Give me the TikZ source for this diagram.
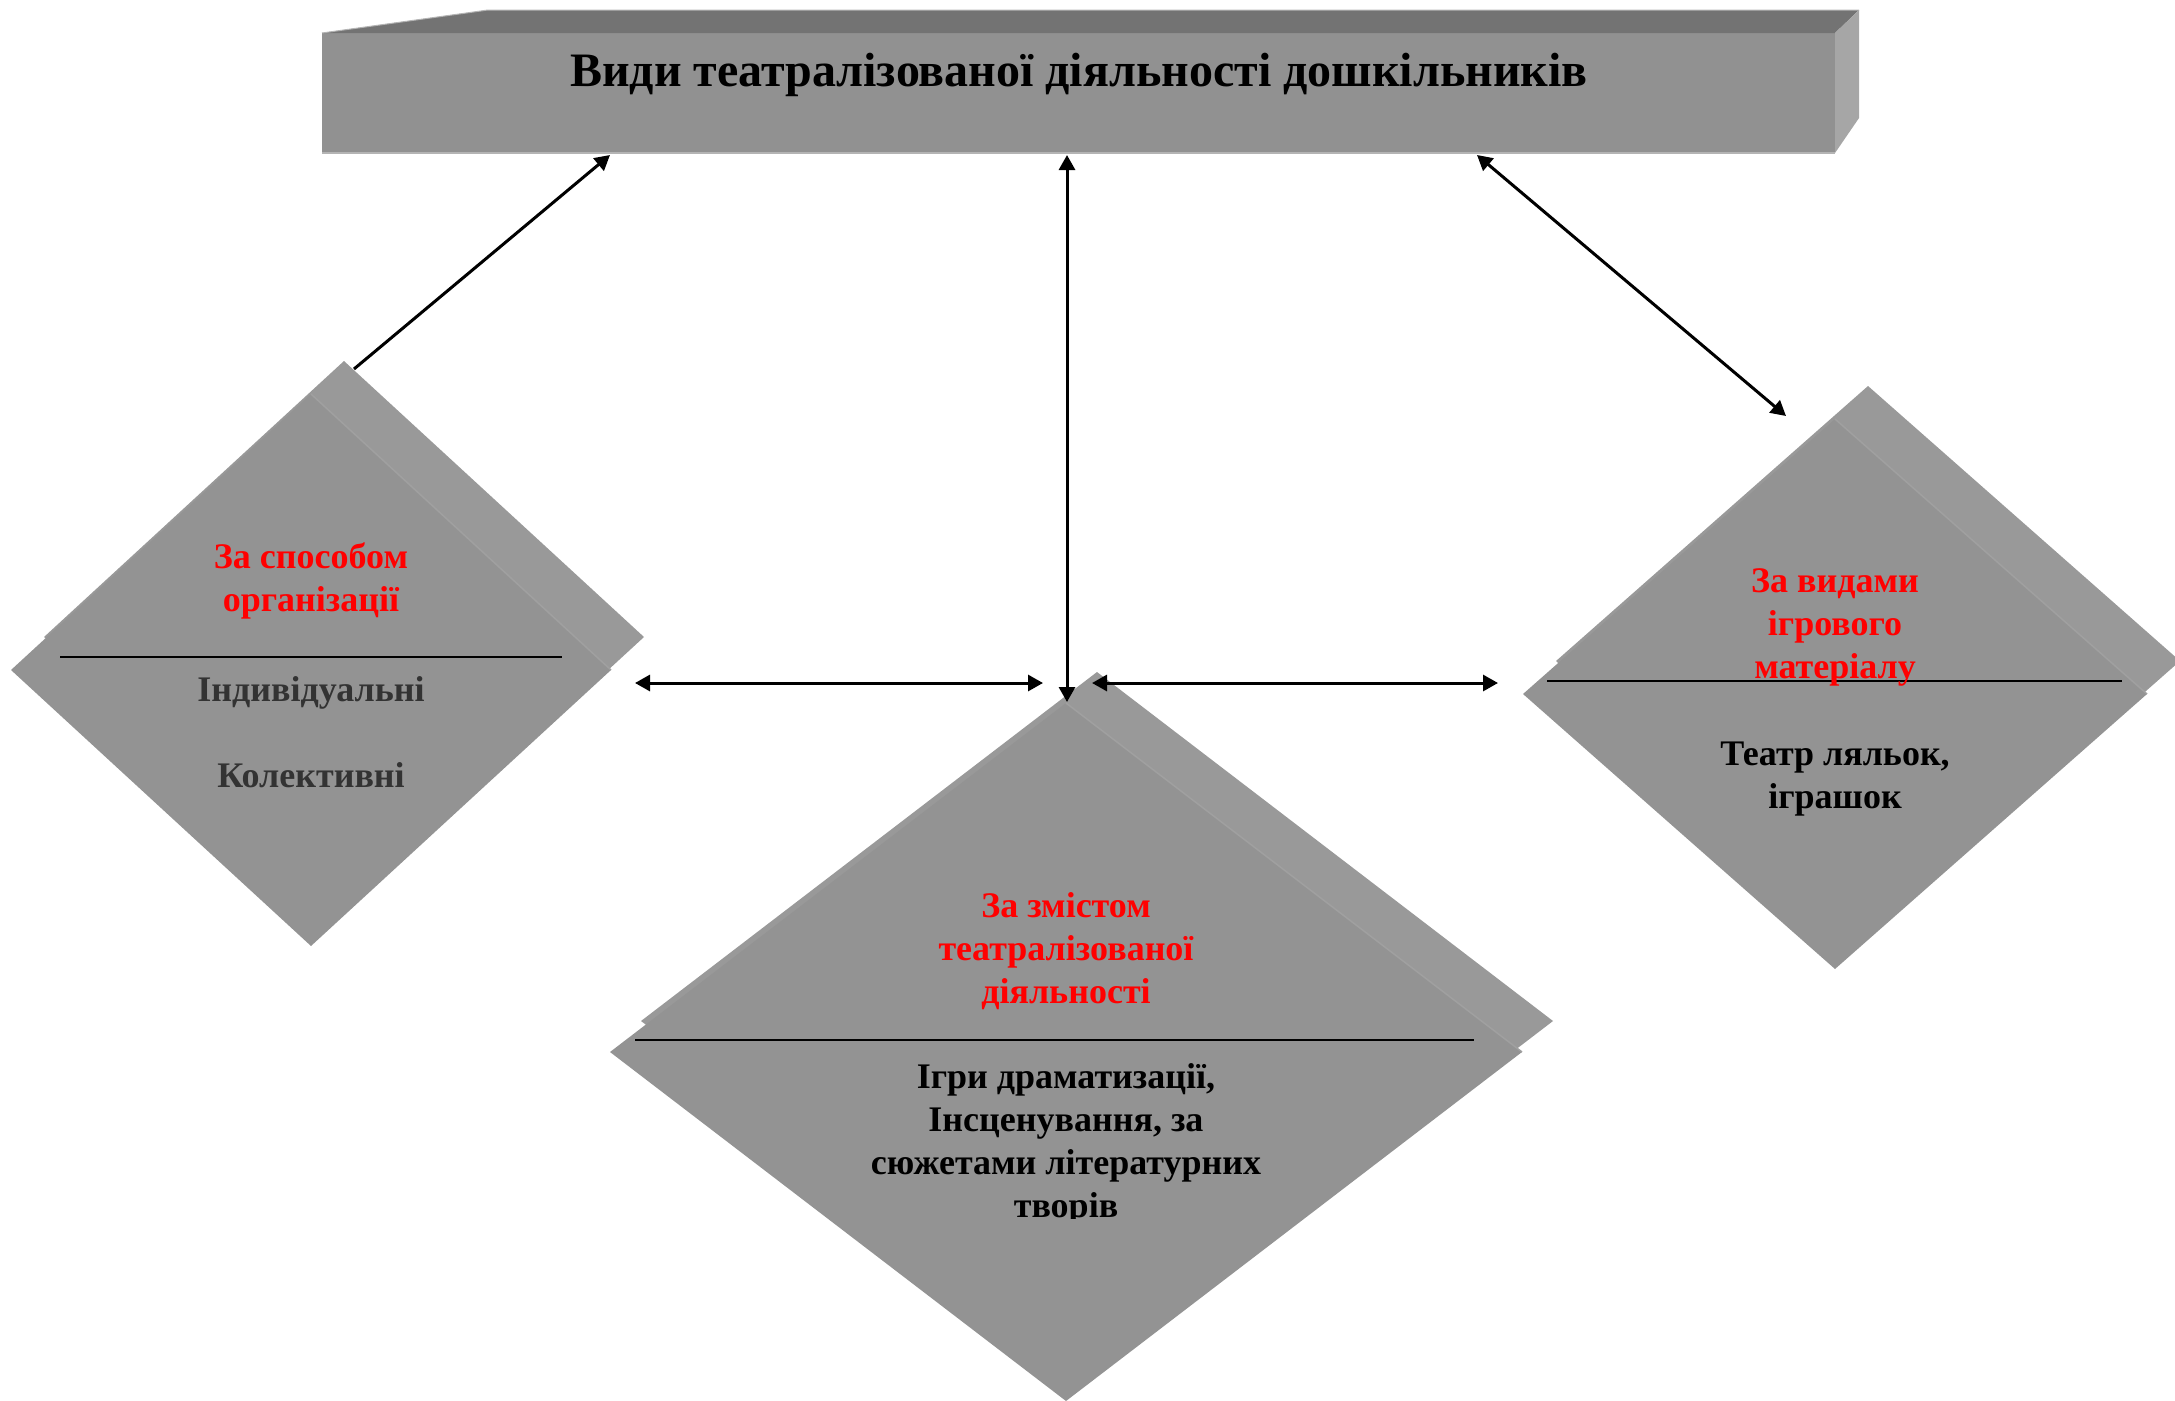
\documentclass[tikz,border=0pt]{standalone}
\usepackage{fontspec}
\setmainfont{Liberation Serif}
\usetikzlibrary{arrows.meta}
\definecolor{facegray}{HTML}{939393}
\definecolor{sidegray}{HTML}{999999}
\definecolor{edgegray}{HTML}{A0A0A0}
\definecolor{boxfront}{HTML}{919191}
\definecolor{boxtop}{HTML}{737373}
\definecolor{boxright}{HTML}{A6A6A6}
\definecolor{boxedge}{HTML}{B4B4B4}
\definecolor{headred}{HTML}{FF0000}
\definecolor{darktxt}{HTML}{333333}
\newcommand\gemshape[5]{%
  \fill[sidegray] (#1+#5,#2-#4-#5) -- (#1+#3+#5,#2-#5) -- (#1+#5,#2+#4-#5) -- (#1-#3+#5,#2-#5) -- cycle;
  \fill[facegray] (#1,#2-#4) -- (#1+#3,#2) -- (#1,#2+#4) -- (#1-#3,#2) -- cycle;
  \draw[edgegray, line width=1.5pt] (#1,#2-#4) -- (#1+#3,#2);
}
\begin{document}
\begin{tikzpicture}[x=1pt,y=-1pt,
  headtxt/.style={text=headred, font=\fontsize{36}{43}\selectfont\bfseries, align=center},
  bodytxt/.style={text=black, font=\fontsize{36}{43}\selectfont\bfseries, align=center},
  divline/.style={line width=2.5pt, black},
  link/.style={line width=3pt, black},
  onetip/.style={-{Triangle[length=15pt,width=16pt]}},
  twotip/.style={{Triangle[length=15pt,width=16pt]}-{Triangle[length=15pt,width=16pt]}}]
\useasboundingbox (0,0) rectangle (2175,1400);

% top 3D box
\fill[boxfront] (322,33) rectangle (1835,153);
\fill[boxtop] (322,33) -- (488,10) -- (1859,10) -- (1835,33) -- cycle;
\fill[boxright] (1835,33) -- (1859,10) -- (1859,118) -- (1835,153) -- cycle;
\draw[boxedge, line width=1.5pt] (322,153) -- (1835,153);
\draw[boxedge, line width=1pt] (322,33) -- (488,10) -- (1859,10);
\node[font=\fontsize{48}{54}\selectfont\bfseries] (title) at (1079,75) {Види театралізованої діяльності дошкільників};

% diamonds
\gemshape{311}{670}{300}{276}{33}
\gemshape{1066}{1052}{456}{349}{31}
\gemshape{1835}{694}{312}{275}{33}

% left diamond
\draw[divline] (60,657) -- (562,657);
\node[headtxt] (lhead) at (311,581) {За способом\\організації};
\node[bodytxt, text=darktxt] (lbody) at (311,732) {Індивідуальні\\[43pt]Колективні};

% middle diamond
\draw[divline] (635,1040) -- (1474,1040);
\node[headtxt] (mhead) at (1066,951) {За змістом\\театралізованої\\діяльності};
\begin{scope}
\clip (600,1045) rectangle (1530,1218);
\node[bodytxt] (mbody) at (1066,1144) {Ігри драматизації,\\Інсценування, за\\сюжетами літературних\\творів};
\end{scope}

% right diamond
\draw[divline] (1547,681) -- (2122,681);
\node[headtxt] (rhead) at (1835,627) {За видами\\ігрового\\матеріалу};
\node[bodytxt] (rbody) at (1835,779) {Театр ляльок,\\іграшок};

% connector end points
\coordinate (a1s) at (354,369);
\coordinate (a1e) at (610,155);
\coordinate (a2s) at (1067,155);
\coordinate (a2e) at (1067,702);
\coordinate (a3s) at (1477,155);
\coordinate (a3e) at (1786,416);
\coordinate (a4s) at (635,683);
\coordinate (a4e) at (1043,683);
\coordinate (a5s) at (1092,683);
\coordinate (a5e) at (1498,683);

\draw[link, onetip] (a1s) -- (a1e);
\draw[link, twotip] (a2s) -- (a2e);
\draw[link, twotip] (a3s) -- (a3e);
\draw[link, twotip] (a4s) -- (a4e);
\draw[link, twotip] (a5s) -- (a5e);
\end{tikzpicture}
\end{document}
